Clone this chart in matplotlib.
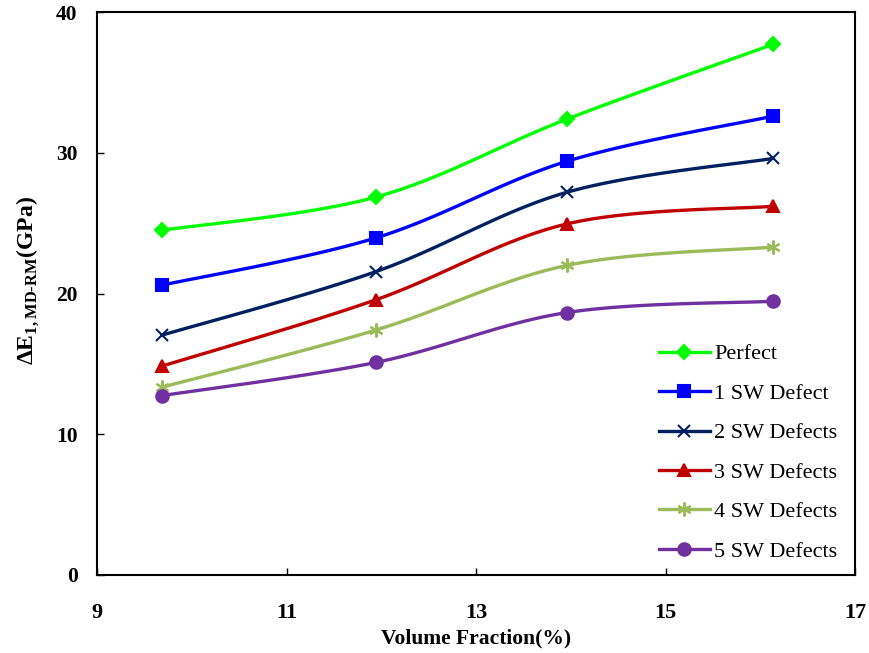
import numpy as np
import matplotlib
matplotlib.use("Agg")
import matplotlib.pyplot as plt

plt.rcParams['font.family'] = ['Liberation Serif', 'DejaVu Serif']
plt.rcParams['mathtext.fontset'] = 'custom'
plt.rcParams['mathtext.rm'] = 'Liberation Serif:bold'
plt.rcParams['mathtext.bf'] = 'Liberation Serif:bold'

# data
vol_frac = [9.69, 11.94, 13.96, 16.13]
labels = ['Perfect', '1 SW Defect', '2 SW Defects', '3 SW Defects', '4 SW Defects', '5 SW Defects']
perfect = [24.5, 26.85, 32.4, 37.7]
sw1 = [20.6, 23.95, 29.4, 32.6]
sw2 = [17.05, 21.55, 27.2, 29.6]
sw3 = [14.85, 19.55, 24.95, 26.2]
sw4 = [13.35, 17.4, 22.0, 23.3]
sw5 = [12.75, 15.1, 18.65, 19.45]

series = [perfect, sw1, sw2, sw3, sw4, sw5]
colors = ['#00FF00', '#0000FF', '#002060', '#C00000', '#9BBB59', '#7030A0']
markers = ['D', 's', 'x', '^', (6, 2, 0), 'o']
msizes = [7, 9, 9, 9, 10, 9]


def smooth(x, y, n=40):
    # Excel-like smoothed line (Bezier through the points)
    x = np.asarray(x, float)
    y = np.asarray(y, float)
    px = np.concatenate([[x[0]], x, [x[-1]]])
    py = np.concatenate([[y[0]], y, [y[-1]]])
    xs, ys = [], []
    t = np.linspace(0, 1, n)
    for i in range(1, len(px) - 2):
        p0, p1, p2, p3 = px[i - 1], px[i], px[i + 1], px[i + 2]
        q0, q1, q2, q3 = py[i - 1], py[i], py[i + 1], py[i + 2]
        c1x, c1y = p1 + (p2 - p0) / 6, q1 + (q2 - q0) / 6
        c2x, c2y = p2 - (p3 - p1) / 6, q2 - (q3 - q1) / 6
        bx = (1 - t) ** 3 * p1 + 3 * (1 - t) ** 2 * t * c1x + 3 * (1 - t) * t ** 2 * c2x + t ** 3 * p2
        by = (1 - t) ** 3 * q1 + 3 * (1 - t) ** 2 * t * c1y + 3 * (1 - t) * t ** 2 * c2y + t ** 3 * q2
        xs.extend(bx)
        ys.extend(by)
    return np.array(xs), np.array(ys)


fig = plt.figure(figsize=(8.7, 6.53), dpi=100)
ax = fig.add_axes([0.1115, 0.1195, 0.8715, 0.862])

for vals, c, m, ms, lab in zip(series, colors, markers, msizes, labels):
    sx, sy = smooth(vol_frac, vals)
    ax.plot(sx, sy, color=c, linewidth=2.4, zorder=2)
    ax.plot(vol_frac, vals, linestyle='none', marker=m, markersize=ms, color=c,
            markeredgewidth=1.5, zorder=3)
    ax.plot([], [], color=c, linewidth=2.4, marker=m, markersize=ms,
            markeredgewidth=1.5, label=lab)

ax.set_xlim(9, 17)
ax.set_ylim(0, 40)
ax.set_xticks([9, 11, 13, 15, 17])
ax.set_yticks([0, 10, 20, 30, 40])
ax.tick_params(direction='in', length=5, width=1)
ax.tick_params(axis='x', labelsize=16, pad=20)
ax.tick_params(axis='y', labelsize=15.5, pad=14)
for t in ax.get_xticklabels() + ax.get_yticklabels():
    t.set_fontweight('bold')
for s in ax.spines.values():
    s.set_linewidth(1.5)

ax.set_xlabel('Volume Fraction(%)', fontsize=15.5, fontweight='bold', labelpad=0)
ax.xaxis.set_label_coords(0.5, -0.095)
ax.set_ylabel(r'ΔE$_{1,\mathrm{MD\text{-}RM}}$(GPa)', fontsize=17, fontweight='bold', labelpad=14)
ax.yaxis.set_label_coords(-0.075, 0.524)

ax.legend(loc='lower right', bbox_to_anchor=(1.0, -0.008), frameon=False, fontsize=16,
          handlelength=2.3, handletextpad=0.2, labelspacing=0.85, borderpad=0.3)

fig.savefig('out.png', dpi=100)
